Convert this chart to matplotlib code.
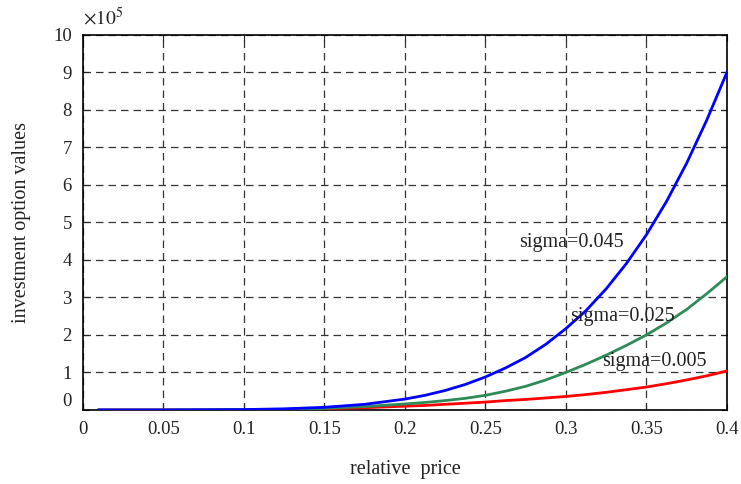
import matplotlib
matplotlib.use("Agg")
import matplotlib.pyplot as plt
from matplotlib.transforms import ScaledTranslation

plt.rcParams['font.family'] = ['Liberation Serif', 'DejaVu Serif']
plt.rcParams['mathtext.fontset'] = 'stix'

# relative price samples (shared by all three series)
x_price = [0.01, 0.05, 0.10, 0.125, 0.15, 0.175, 0.20, 0.2125, 0.225, 0.2375, 0.25,
           0.2625, 0.275, 0.2875, 0.30, 0.3125, 0.325, 0.3375, 0.35, 0.3625, 0.375,
           0.3875, 0.40]
# investment option values (x 10^5)
y_blue = [0.0, 0.0, 0.01, 0.03, 0.07, 0.15, 0.29, 0.39, 0.52, 0.68, 0.88,
          1.12, 1.40, 1.75, 2.17, 2.65, 3.23, 3.90, 4.67, 5.56, 6.58,
          7.73, 9.0]
y_green = [0.0, 0.0, 0.005, 0.015, 0.04, 0.09, 0.16, 0.20, 0.25, 0.31, 0.39,
           0.50, 0.63, 0.80, 1.0, 1.22, 1.46, 1.72, 2.0, 2.32, 2.68,
           3.10, 3.55]
y_red = [0.0, 0.0, 0.003, 0.01, 0.03, 0.06, 0.10, 0.12, 0.15, 0.18, 0.21,
         0.25, 0.28, 0.32, 0.36, 0.41, 0.47, 0.54, 0.61, 0.70, 0.80,
         0.91, 1.04]

series_labels = ['sigma=0.045', 'sigma=0.025', 'sigma=0.005']
label_pos = [(0.271, 4.47), (0.3027, 2.5), (0.3226, 1.28)]

xticks = [0, 0.05, 0.1, 0.15, 0.2, 0.25, 0.3, 0.35, 0.4]
xticklabels = ['0', '0.05', '0.1', '0.15', '0.2', '0.25', '0.3', '0.35', '0.4']
yticks = list(range(0, 11))

fig = plt.figure(figsize=(7.41, 4.84), dpi=100)
ax = fig.add_axes([0.112, 0.153, 0.869, 0.775])

ax.plot(x_price, y_red, color='#ff0000', lw=2.0, zorder=3)
ax.plot(x_price, y_green, color='#2e8b57', lw=2.0, zorder=3)
ax.plot(x_price, y_blue, color='#0000ff', lw=2.0, zorder=4)

for lab, (tx, ty) in zip(series_labels, label_pos):
    ax.text(tx, ty, lab, fontsize=14.5, color='#222222', va='center', ha='left', zorder=5)

ax.set_xlim(0, 0.4)
ax.set_ylim(0, 10)
ax.set_xticks(xticks)
ax.set_xticklabels(xticklabels)
ax.set_yticks(yticks)
ax.grid(True, color='#333333', linestyle=(0, (6, 4)), linewidth=0.9)
ax.tick_params(direction='in', top=True, right=True, length=4, labelsize=13.5,
               colors='#222222', pad=8)
for s in ax.spines.values():
    s.set_linewidth(1.2)
    s.set_color('black')

ax.set_xlabel('relative  price', fontsize=14.5, labelpad=16, color='#222222')
ax.set_ylabel('investment option values', fontsize=14.5, labelpad=16, color='#222222')
ax.text(0.0, 1.015, r'$\times 10^{5}$', transform=ax.transAxes, fontsize=14,
        ha='left', va='bottom', color='#222222')

fig.canvas.draw()
lbl0 = ax.yaxis.get_major_ticks()[0].label1
lbl0.set_transform(lbl0.get_transform() + ScaledTranslation(0, 10/100, fig.dpi_scale_trans))

fig.savefig('out.png', dpi=100)
